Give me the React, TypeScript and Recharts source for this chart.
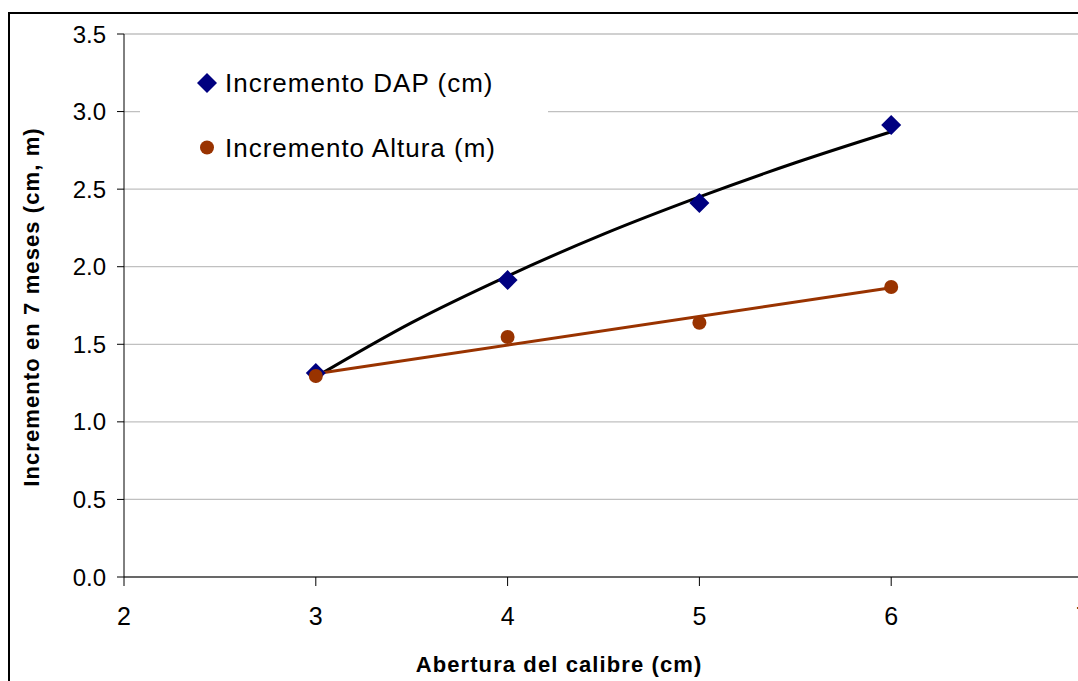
import React from 'react';
import { ComposedChart, Scatter, Line, XAxis, YAxis, CartesianGrid, Legend, Label } from 'recharts';

// valores
const aberturas = [3, 4, 5, 6];
const incrementoDAP = [1.315, 1.914, 2.41, 2.913];
const incrementoAltura = [1.296, 1.547, 1.639, 1.869];

// lineas de tendencia
const tendDAPx = [3, 3.5, 4, 4.5, 5, 5.5, 6];
const tendDAPy = [1.29, 1.64, 1.94, 2.21, 2.45, 2.67, 2.87];
const tendAlturaX = [3, 6];
const tendAlturaY = [1.31, 1.865];

const xTicks = [2, 3, 4, 5, 6, 7];
const yTicks = [0, 0.5, 1, 1.5, 2, 2.5, 3, 3.5];

const serieDAP = { name: 'Incremento DAP (cm)', color: '#000080' };
const serieAltura = { name: 'Incremento Altura (m)', color: '#993300' };

const dapPoints = aberturas.map((x, i) => ({ x, y: incrementoDAP[i] }));
const alturaPoints = aberturas.map((x, i) => ({ x, y: incrementoAltura[i] }));
const dapTrend = tendDAPx.map((x, i) => ({ x, y: tendDAPy[i] }));
const alturaTrend = tendAlturaX.map((x, i) => ({ x, y: tendAlturaY[i] }));

const FONT = '"Liberation Sans", Arial, sans-serif';

const Diamond = (props: any) => {
  const { cx, cy, fill } = props;
  const r = 10;
  return <polygon points={`${cx},${cy - r} ${cx + r},${cy} ${cx},${cy + r} ${cx - r},${cy}`} fill={fill} />;
};

const Dot = (props: any) => {
  const { cx, cy, fill } = props;
  return <circle cx={cx} cy={cy} r={7} fill={fill} />;
};

const XTick = ({ x, y, payload }: any) => (
  <text x={x} y={y} dy="0.72em" textAnchor="middle" fontSize={25} fontFamily={FONT} fill="#000">
    {payload.value}
  </text>
);

const YTick = ({ x, y, payload }: any) => (
  <text x={x} y={y} dy="0.36em" textAnchor="end" fontSize={24} fontFamily={FONT} fill="#000">
    {Number(payload.value).toFixed(1)}
  </text>
);

const LegendBox = () => (
  <svg width={408} height={140} style={{ display: 'block' }}>
    <rect x={0} y={0} width={408} height={140} fill="#fff" />
    <Diamond cx={67} cy={43} fill={serieDAP.color} />
    <text x={85} y={52} fontSize={26} fontFamily={FONT} letterSpacing={1} fill="#000">
      {serieDAP.name}
    </text>
    <Dot cx={67} cy={107.5} fill={serieAltura.color} />
    <text x={85} y={117} fontSize={26} fontFamily={FONT} letterSpacing={1} fill="#000">
      {serieAltura.name}
    </text>
  </svg>
);

export default function App() {
  return (
    <div style={{ position: 'fixed', left: 0, top: 0, width: 1078, height: 681, overflow: 'hidden', background: '#fff' }}>
      <div
        style={{
          position: 'absolute',
          left: 8,
          top: 12,
          width: 1200,
          height: 800,
          border: '2px solid #000',
        }}
      />
      <div style={{ position: 'absolute', left: 0, top: 0 }}>
        <ComposedChart
          width={1150}
          height={681}
          margin={{ top: 34, right: 67, bottom: 44, left: 64 }}
          style={{ fontFamily: FONT }}
        >
          <CartesianGrid vertical={false} stroke="#c0c0c0" strokeWidth={1.3} />
          <XAxis
            type="number"
            dataKey="x"
            domain={[2, 7]}
            ticks={xTicks}
            allowDataOverflow
            height={60}
            tickSize={9}
            tickMargin={21}
            stroke="#000"
            tick={XTick}
            tickLine={{ stroke: '#000' }}
          >
            <Label
              content={() => (
                <text x={559} y={672} textAnchor="middle" fontSize={22} fontWeight="bold" letterSpacing={1.1} fontFamily={FONT} fill="#000">
                  Abertura del calibre (cm)
                </text>
              )}
            />
          </XAxis>
          <YAxis
            type="number"
            domain={[0, 3.5]}
            ticks={yTicks}
            width={60}
            tickSize={7}
            tickMargin={11}
            stroke="#000"
            tick={YTick}
            tickLine={{ stroke: '#000' }}
          >
            <Label
              content={() => (
                <text
                  x={31}
                  y={307}
                  transform="rotate(-90 31 307)"
                  textAnchor="middle"
                  dominantBaseline="central"
                  fontSize={22}
                  fontWeight="bold"
                  letterSpacing={1.1}
                  fontFamily={FONT}
                  fill="#000"
                >
                  Incremento en 7 meses (cm, m)
                </text>
              )}
            />
          </YAxis>
          <Legend
            layout="vertical"
            align="center"
            verticalAlign="middle"
            content={() => <LegendBox />}
            wrapperStyle={{ position: 'absolute', left: 140, top: 40, width: 408, height: 140, margin: 0 }}
          />
          <Scatter name={serieDAP.name} data={dapPoints} dataKey="y" fill={serieDAP.color} shape={Diamond} isAnimationActive={false} />
          <Scatter name={serieAltura.name} data={alturaPoints} dataKey="y" fill={serieAltura.color} shape={Dot} isAnimationActive={false} />
          <Line data={dapTrend} dataKey="y" type="monotone" stroke="#000" strokeWidth={3} dot={false} activeDot={false} legendType="none" isAnimationActive={false} />
          <Line data={alturaTrend} dataKey="y" type="linear" stroke={serieAltura.color} strokeWidth={3} dot={false} activeDot={false} legendType="none" isAnimationActive={false} />
        </ComposedChart>
      </div>
    </div>
  );
}
